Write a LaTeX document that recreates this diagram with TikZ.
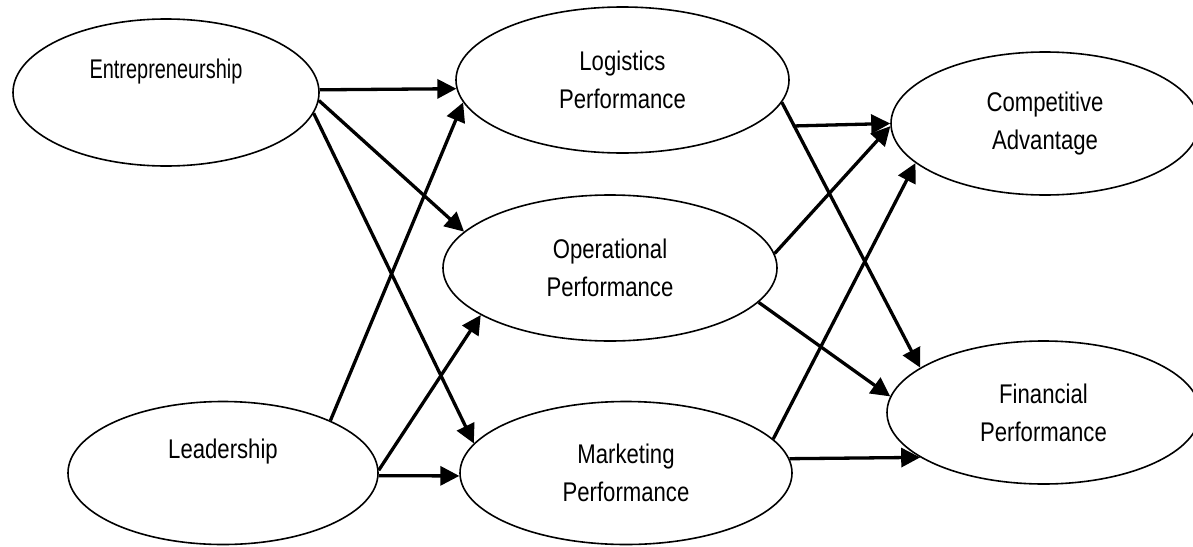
\documentclass[tikz,border=0pt]{standalone}
\usepackage{fontspec}
\usepackage{graphicx}
\setmainfont[FakeStretch=0.82]{Liberation Sans}
\usetikzlibrary{shapes.geometric,arrows.meta}
\begin{document}
\begin{tikzpicture}[x=1pt,y=-1pt,
  oval/.style={draw,ellipse,line width=1.6pt,inner sep=0pt,
    font=\fontsize{27}{38}\selectfont,align=center},
  lbl/.style={font=\fontsize{27}{38}\selectfont,align=center,inner sep=0pt},
  link/.style={line width=3.3pt,-{Triangle[length=19pt,width=19pt]}}]
\useasboundingbox (0,0) rectangle (1193,546);

% constructs
\node[oval,minimum width=306pt,minimum height=147pt] (ent) at (166,92.5) {};
\node[lbl] (entlbl) at ([yshift=21pt]ent.center) {\scalebox{0.9}[1]{Entrepreneurship}};
\node[oval,minimum width=310pt,minimum height=143pt] (lea) at (223,473) {};
\node[lbl] (lealbl) at ([yshift=21pt]lea.center) {Leadership};
\node[oval,minimum width=333pt,minimum height=146pt] (log) at (622.5,80) {Logistics\\Performance};
\node[oval,minimum width=334pt,minimum height=146pt] (ope) at (610,268) {Operational\\Performance};
\node[oval,minimum width=332pt,minimum height=143pt] (mkt) at (626,473) {Marketing\\Performance};
\node[oval,minimum width=308pt,minimum height=143pt] (com) at (1045,123.5) {Competitive\\Advantage};
\node[oval,minimum width=313pt,minimum height=143pt] (fin) at (1043.5,412.5) {Financial\\Performance};

% paths from the antecedents
\draw[link] (ent.1) -- (log.183.5);
\draw[link] (ent.-3.6) -- (ope.166.2);
\draw[link] (ent.-8) -- (mkt.169.4);
\draw[link] (lea.26.8) -- (log.188.6);
\draw[link] (lea.1.8) -- (ope.200);
\draw[link] (lea.-1.5) -- (mkt.181.4);

% paths to the outcomes
\coordinate (logout) at ([xshift=3pt,yshift=-46pt]log.east);
\draw[link] (logout) -- (com.180.9);
\draw[link] (log.-8.3) -- (fin.160.2);
\draw[link] (ope.5.3) -- (com.181.7);
\draw[link] (ope.-13) -- (fin.174.7);
\draw[link] (mkt.13.4) -- (com.197.5);
\draw[link] (mkt.5.3) -- (fin.200.7);
\end{tikzpicture}
\end{document}
